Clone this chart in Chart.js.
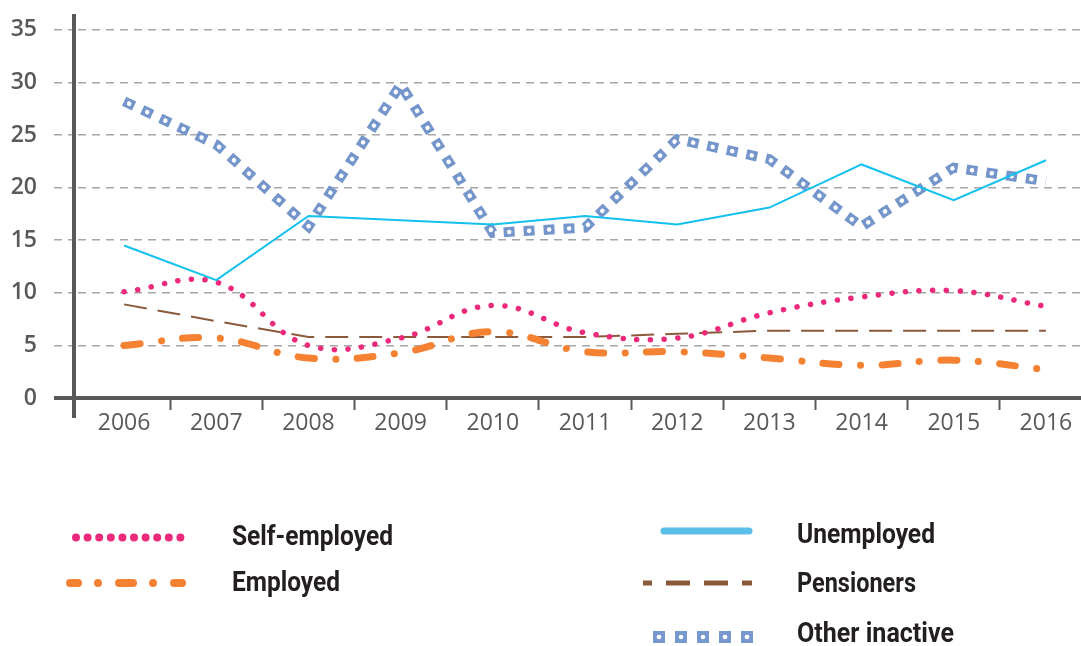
<!DOCTYPE html>
<html>
<head>
<meta charset="utf-8">
<script src="https://cdn.jsdelivr.net/npm/chart.js@4.4.1/dist/chart.umd.min.js"></script>
<style>
  html, body { margin: 0; padding: 0; background: #fff; overflow: hidden; }
  #wrap { position: relative; width: 1081px; height: 646px; overflow: hidden; }
  #chart { position: absolute; left: 0; top: 0; }
  #legend { position: absolute; left: 0; top: 0; }
  #legend text { font-family: "Roboto", sans-serif; font-weight: bold; font-size: 28px; fill: #231f20; }
</style>
</head>
<body>
<div id="wrap">
  <canvas id="chart" width="1092" height="446"></canvas>
  <svg id="legend" width="1081" height="646"></svg>
</div>
<script>
// Data
const years = ["2006", "2007", "2008", "2009", "2010", "2011", "2012", "2013", "2014", "2015", "2016"];
const selfEmployed = [10.1, 11.0, 5.0, 5.7, 8.8, 6.2, 5.7, 8.1, 9.6, 10.2, 8.7];
const employed = [5.0, 5.7, 3.8, 4.3, 6.3, 4.4, 4.4, 3.8, 3.1, 3.6, 2.7];
const unemployed = [14.5, 11.2, 17.3, 16.9, 16.5, 17.3, 16.5, 18.1, 22.2, 18.8, 22.6];
const pensioners = [8.9, 7.3, 5.8, 5.8, 5.8, 5.8, 6.1, 6.4, 6.4, 6.4, 6.4];
const otherInactive = [28.2, 24.1, 16.3, 29.8, 15.7, 16.2, 24.6, 22.7, 16.3, 21.9, 20.6];
const yTicks = [0, 5, 10, 15, 20, 25, 30, 35];

const axisColor = "#595959";

// solid axis lines drawn over the scales
const axisLines = {
  id: "axisLines",
  afterDraw(chart) {
    const { ctx, chartArea } = chart;
    ctx.save();
    ctx.fillStyle = axisColor;
    ctx.fillRect(chartArea.left - 6, chartArea.top, 4, 418 - chartArea.top);
    ctx.fillRect(54, chartArea.bottom - 2, chart.width, 4);
    ctx.restore();
  },
};

new Chart(document.getElementById("chart"), {
  type: "line",
  data: {
    labels: years,
    datasets: [
      {
        label: "Unemployed",
        data: unemployed,
        borderColor: "#14c0ee",
        borderWidth: 2,
        tension: 0,
      },
      {
        label: "Other inactive (centre)",
        data: otherInactive,
        borderColor: "#ffffff",
        borderWidth: 4.5,
        borderDash: [0.1, 19.9],
        borderDashOffset: -5.5,
        borderCapStyle: "round",
        tension: 0,
      },
      {
        label: "Other inactive",
        data: otherInactive,
        borderColor: "#7596cb",
        borderWidth: 10,
        borderDash: [11, 9],
        borderCapStyle: "butt",
        borderJoinStyle: "miter",
        tension: 0,
      },
      {
        label: "Self-employed",
        data: selfEmployed,
        borderColor: "#ec2a7b",
        borderWidth: 5.5,
        borderDash: [0.1, 13.6],
        borderCapStyle: "round",
        tension: 0.4,
      },
      {
        label: "Employed",
        data: employed,
        borderColor: "#f58232",
        borderWidth: 7,
        borderDash: [16, 21.5, 0.1, 21.4],
        borderCapStyle: "round",
        tension: 0.4,
      },
      {
        label: "Pensioners",
        data: pensioners,
        borderColor: "#8b5a3b",
        borderWidth: 2,
        borderDash: [23, 11],
        tension: 0,
      },
    ],
  },
  options: {
    responsive: false,
    animation: false,
    layout: { padding: { top: 14, left: 0, right: 0, bottom: 0 } },
    elements: { point: { radius: 0 } },
    plugins: { legend: { display: false }, tooltip: { enabled: false } },
    scales: {
      x: {
        offset: true,
        afterFit: (scale) => {
          scale.height = 48;
          scale.paddingLeft = 0;
          scale.paddingRight = 0;
        },
        grid: {
          offset: true,
          drawOnChartArea: false,
          tickLength: 12,
          tickWidth: 2,
          tickColor: (ctx) => (ctx.index === 0 ? "rgba(0,0,0,0)" : axisColor),
        },
        border: { display: false },
        ticks: {
          color: axisColor,
          padding: 0,
          autoSkip: false,
          maxRotation: 0,
          font: { family: "'Open Sans'", size: 23, weight: "400" },
        },
      },
      y: {
        min: 0,
        max: 36.5,
        afterFit: (scale) => {
          scale.width = 78;
          scale.paddingTop = 0;
          scale.paddingBottom = 0;
        },
        afterBuildTicks: (scale) => {
          scale.ticks = yTicks.map((v) => ({ value: v }));
        },
        grid: {
          color: "#a6a6a6",
          lineWidth: 1.5,
          tickLength: 24,
          tickColor: "#a6a6a6",
          tickWidth: 1.5,
          tickBorderDash: [8, 6],
        },
        border: { display: false, dash: [8, 6] },
        ticks: {
          color: axisColor,
          padding: 17,
          font: { family: "'Open Sans'", size: 23, weight: "600" },
        },
      },
    },
  },
  plugins: [axisLines],
});

// Legend (two columns, drawn as SVG)
const svg = document.getElementById("legend");
const NS = "http://www.w3.org/2000/svg";
function el(tag, attrs) {
  const e = document.createElementNS(NS, tag);
  for (const k in attrs) e.setAttribute(k, attrs[k]);
  svg.appendChild(e);
  return e;
}
// condensed look: squeeze the bold text to the widths seen in the picture
function label(x, y, text, width) {
  const t = el("text", { x: x, y: y, textLength: width, lengthAdjust: "spacingAndGlyphs" });
  t.textContent = text;
}
el("line", { x1: 76, y1: 537.5, x2: 192, y2: 537.5, stroke: "#ec2a7b", "stroke-width": 8, "stroke-linecap": "round", "stroke-dasharray": "0.01 11.59" });
label(232, 545, "Self-employed", 161);
el("line", { x1: 70, y1: 583, x2: 182, y2: 583, stroke: "#f58232", "stroke-width": 8, "stroke-linecap": "round", "stroke-dasharray": "8 20 0.01 21 14 20 0.01 21 8" });
label(232, 591, "Employed", 108);
el("line", { x1: 664, y1: 531, x2: 749, y2: 531, stroke: "#5bbfea", "stroke-width": 7, "stroke-linecap": "round" });
label(797, 543, "Unemployed", 138);
el("line", { x1: 643, y1: 583, x2: 752, y2: 583, stroke: "#8b5a3b", "stroke-width": 5, "stroke-dasharray": "9 14 24 14 24 14 10" });
label(797, 592, "Pensioners", 119);
[659, 681, 703, 725, 747].forEach((cx) => {
  el("rect", { x: cx - 6, y: 631, width: 12, height: 12, fill: "#7698cd" });
  el("circle", { cx: cx, cy: 637, r: 2.3, fill: "#fff" });
});
label(797, 642, "Other inactive", 157);
</script>
</body>
</html>
